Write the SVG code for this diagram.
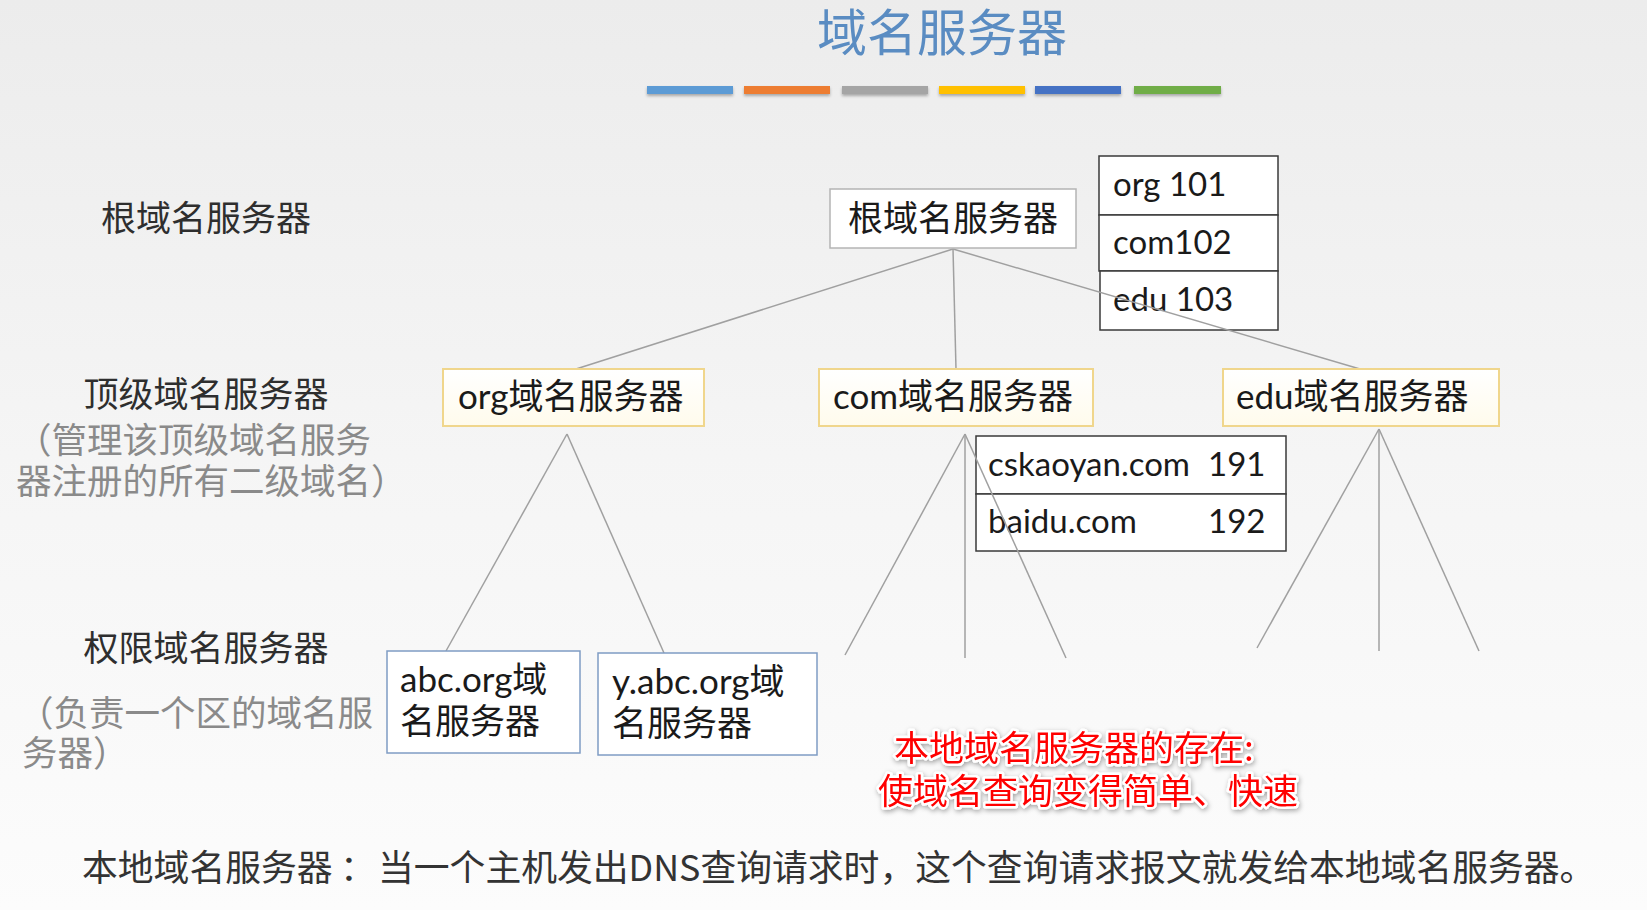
<svg xmlns="http://www.w3.org/2000/svg" width="1647" height="910" viewBox="0 0 1647 910">
  <defs>
    <linearGradient id="bg" x1="0" y1="0" x2="0" y2="1">
      <stop offset="0" stop-color="#ececec"/>
      <stop offset="0.5" stop-color="#f5f5f5"/>
      <stop offset="1" stop-color="#fcfcfc"/>
    </linearGradient>
    <linearGradient id="tldFill" x1="0" y1="0" x2="0" y2="1">
      <stop offset="0" stop-color="#ffffff"/>
      <stop offset="1" stop-color="#fffbec"/>
    </linearGradient>
    <filter id="barShadow" x="-10%" y="-50%" width="120%" height="250%">
      <feGaussianBlur in="SourceAlpha" stdDeviation="1.5"/>
      <feOffset dx="0" dy="2" result="b"/>
      <feFlood flood-color="#000" flood-opacity="0.3"/>
      <feComposite in2="b" operator="in"/>
      <feMerge><feMergeNode/><feMergeNode in="SourceGraphic"/></feMerge>
    </filter>
    <filter id="glow" x="-10%" y="-30%" width="120%" height="160%">
      <feGaussianBlur in="SourceAlpha" stdDeviation="2.5"/>
      <feOffset dx="1" dy="2" result="b"/>
      <feFlood flood-color="#000" flood-opacity="0.35"/>
      <feComposite in2="b" operator="in"/>
      <feMerge><feMergeNode/><feMergeNode in="SourceGraphic"/></feMerge>
    </filter>
  </defs>
  <style>
    .cjk { font-family: "Noto Sans CJK SC", sans-serif; }
    .mix { font-family: Lato, "Noto Sans CJK SC", sans-serif; }
    .lbl { font-size: 35px; fill: #2e2e2e; }
    .sub { font-size: 35.5px; fill: #8a8a8a; }
    .node-text { font-size: 35px; fill: #1a1a1a; }
    .edge { stroke: #a0a0a0; stroke-width: 1.5; fill: none; }
    .root-box { fill: #ffffff; stroke: #b4b4b4; stroke-width: 1.5; }
    .tld-box { fill: url(#tldFill); stroke: #f0d68c; stroke-width: 2; }
    .auth-box { fill: #ffffff; stroke: #7f9cc4; stroke-width: 1.5; }
    .table { fill: #ffffff; stroke: #3a3a3a; stroke-width: 1.5; }
    .tbl-text { font-size: 33px; fill: #1a1a1a; }
    .note { font-size: 35px; fill: #ff0000; stroke: #ffffff; stroke-width: 5; paint-order: stroke; stroke-linejoin: round; }
  </style>

  <rect width="1647" height="910" fill="url(#bg)"/>

  <!-- title -->
  <g id="title">
    <text x="942" y="51" text-anchor="middle" class="cjk" font-size="50" fill="#5a8cc2">域名服务器</text>
    <g filter="url(#barShadow)">
      <rect x="647" y="86" width="86" height="8" fill="#5b9bd5"/>
      <rect x="744" y="86" width="86" height="8" fill="#ed7d31"/>
      <rect x="842" y="86" width="86" height="8" fill="#a5a5a5"/>
      <rect x="939" y="86" width="86" height="8" fill="#ffc000"/>
      <rect x="1035" y="86" width="86" height="8" fill="#4472c4"/>
      <rect x="1134" y="86" width="87" height="8" fill="#70ad47"/>
    </g>
  </g>

  <!-- level labels -->
  <g id="level-labels" class="cjk">
    <text x="206" y="231" text-anchor="middle" class="lbl">根域名服务器</text>
    <text x="206" y="407" text-anchor="middle" class="lbl">顶级域名服务器</text>
    <text x="16" y="453" class="sub">（管理该顶级域名服务</text>
    <text x="16" y="494" class="sub">器注册的所有二级域名）</text>
    <text x="206" y="661" text-anchor="middle" class="lbl">权限域名服务器</text>
    <text x="18" y="726" class="sub">（负责一个区的域名服</text>
    <text x="22" y="766" class="sub">务器）</text>
  </g>

  <!-- root table: TLD -> address -->
  <g id="root-table" class="mix">
    <rect class="table" x="1099" y="156" width="179" height="59"/>
    <rect class="table" x="1099" y="215" width="179" height="56"/>
    <rect class="table" x="1100" y="271" width="178" height="59"/>
    <text x="1113" y="196" class="tbl-text">org 101</text>
    <text x="1113" y="254" class="tbl-text">com102</text>
    <text x="1113" y="311" class="tbl-text">edu 103</text>
  </g>

  <!-- com table: second-level domain -> address -->
  <g id="com-table" class="mix">
    <rect class="table" x="976" y="436" width="310" height="58"/>
    <rect class="table" x="976" y="494" width="310" height="57"/>
    <text x="988" y="476" class="tbl-text">cskaoyan.com</text>
    <text x="1208" y="476" class="tbl-text">191</text>
    <text x="988" y="533" class="tbl-text">baidu.com</text>
    <text x="1208" y="533" class="tbl-text">192</text>
  </g>

  <!-- connectors (drawn across the lookup tables) -->
  <g id="connectors">
    <line class="edge" x1="953" y1="249" x2="576" y2="369"/>
    <line class="edge" x1="953" y1="249" x2="956" y2="369"/>
    <line class="edge" x1="953" y1="249" x2="1360" y2="369"/>
    <line class="edge" x1="567" y1="434" x2="446" y2="651"/>
    <line class="edge" x1="567" y1="434" x2="664" y2="653"/>
    <line class="edge" x1="965" y1="434" x2="845" y2="655"/>
    <line class="edge" x1="965" y1="434" x2="965" y2="658"/>
    <line class="edge" x1="965" y1="434" x2="1066" y2="658"/>
    <line class="edge" x1="1379" y1="429" x2="1257" y2="648"/>
    <line class="edge" x1="1379" y1="429" x2="1379" y2="651"/>
    <line class="edge" x1="1379" y1="429" x2="1479" y2="651"/>
  </g>

  <!-- root server -->
  <g id="root">
    <rect class="root-box" x="830" y="189" width="246" height="59"/>
    <text x="953" y="231" text-anchor="middle" class="cjk node-text">根域名服务器</text>
  </g>

  <!-- top-level domain servers -->
  <g id="tld-org">
    <rect class="tld-box" x="443" y="369" width="261" height="57"/>
    <text x="458" y="409" class="mix node-text">org域名服务器</text>
  </g>
  <g id="tld-com">
    <rect class="tld-box" x="819" y="369" width="274" height="57"/>
    <text x="833" y="409" class="mix node-text">com域名服务器</text>
  </g>
  <g id="tld-edu">
    <rect class="tld-box" x="1223" y="369" width="276" height="57"/>
    <text x="1236" y="409" class="mix node-text">edu域名服务器</text>
  </g>

  <!-- authoritative servers -->
  <g id="auth-abc">
    <rect class="auth-box" x="387" y="651" width="193" height="102"/>
    <text x="400" y="692" class="mix node-text">abc.org域</text>
    <text x="400" y="734" class="mix node-text">名服务器</text>
  </g>
  <g id="auth-yabc">
    <rect class="auth-box" x="598" y="653" width="219" height="102"/>
    <text x="612" y="694" class="mix node-text">y.abc.org域</text>
    <text x="612" y="736" class="mix node-text">名服务器</text>
  </g>

  <!-- highlighted note -->
  <g id="note" class="cjk" filter="url(#glow)">
    <text x="894" y="761" class="note">本地域名服务器的存在:</text>
    <text x="878" y="804" class="note">使域名查询变得简单、快速</text>
  </g>

  <!-- footer definition -->
  <g id="footer" class="cjk" font-size="35.8" fill="#333333">
    <text y="881"><tspan x="82">本地域名服务器</tspan><tspan x="340">：</tspan><tspan x="378">当一个主机发出DNS查询请求时，这个查询请求报文就发给本地域名服务器。</tspan></text>
  </g>
</svg>
